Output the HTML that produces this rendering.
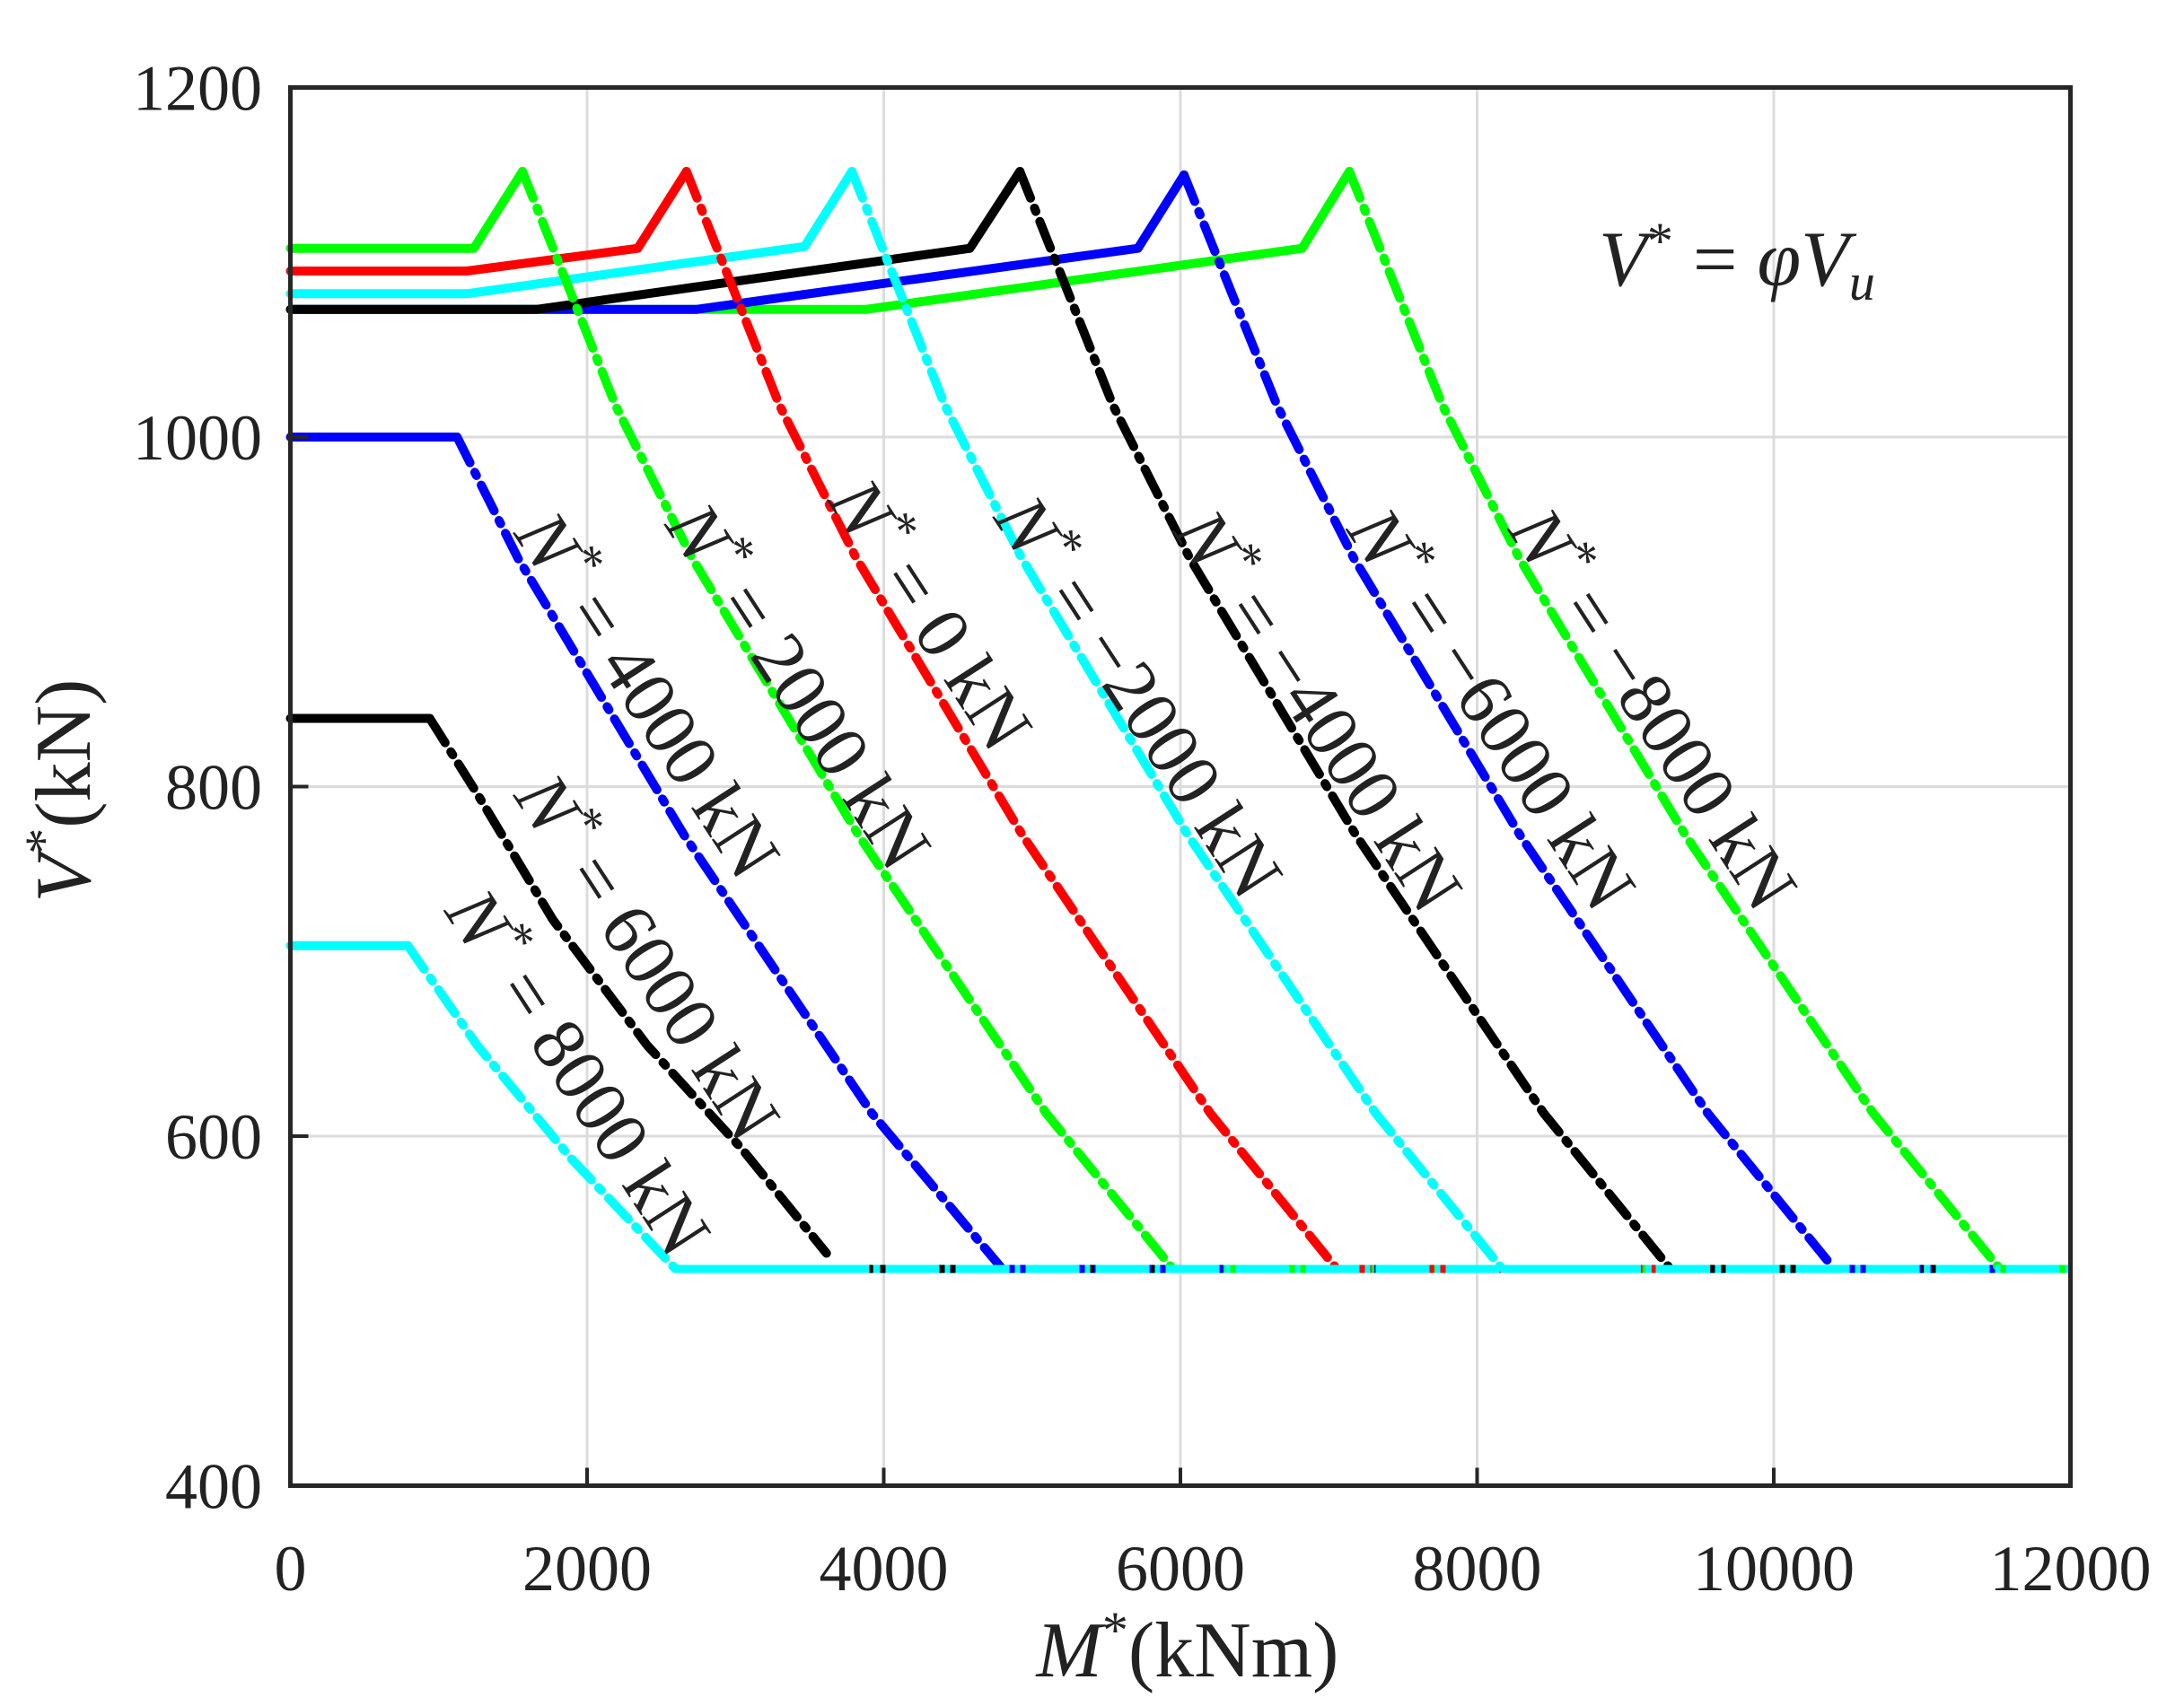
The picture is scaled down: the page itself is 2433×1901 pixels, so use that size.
<!DOCTYPE html>
<html><head><meta charset="utf-8"><style>
html,body{margin:0;padding:0;background:#fff}
svg{display:block}
text{font-family:"Liberation Serif",serif;fill:#222}
</style></head><body>
<svg id="chart" width="2433" height="1901" viewBox="0 0 2433 1901">
<g id="grid"></g>
<g id="series"></g>
<rect x="323.5" y="97.5" width="1983" height="1558" fill="none" stroke="#262626" stroke-width="5"/>
<g id="ticks"></g>
<g id="labels"></g>
<text x="1323" y="1868" font-size="88" text-anchor="middle"><tspan font-style="italic">M</tspan><tspan dy="-32" font-size="58">*</tspan><tspan dy="32">(kNm)</tspan></text>
<text transform="translate(100,881) rotate(-90)" font-size="88" text-anchor="middle"><tspan font-style="italic">V</tspan><tspan dy="-32" font-size="58">*</tspan><tspan dy="32">(kN)</tspan></text>
<text x="1935" y="318" font-size="88" text-anchor="middle"><tspan font-style="italic">V</tspan><tspan dy="-30" font-size="58">*</tspan><tspan dy="30"> = </tspan><tspan font-style="italic">φV</tspan><tspan dy="16" font-size="58" font-style="italic">u</tspan></text>
</svg>
<script>
const xTicks=[0,2000,4000,6000,8000,10000,12000];
const yTicks=[400,600,800,1000,1200];
const seriesNames=["8000","6000","4000","2000","0","-2000","-4000","-6000","-8000"];
const seriesColors=["#00ffff","#000000","#0000ff","#00ff00","#ff0000","#00ffff","#000000","#0000ff","#00ff00"];
const solidX=[[0,791],[0,940],[0,1124],[0,1237,1564],[0,1190,2342,2670],[0,1190,3466,3785],[0,1658,4581,4918],[0,2735,5714,6024],[0,3878,6820,7139]];
const solidY=[[709,709],[839,839],[1000,1000],[1108,1108,1152],[1095,1095,1108,1152],[1082,1082,1109,1152],[1073,1073,1108,1152],[1073,1073,1108,1150],[1073,1073,1108,1152]];
const dashX=[[791,1259,1895,2596],[940,1259,1768,2405,3041,3614],[1124,1532,2656,3921,4790],[1564,2192,2707,3831,5096,5939],[2670,3298,3813,4937,6202,7045],[3785,4413,4928,6052,7317,8160],[4918,5546,6061,7185,8450,9293],[6024,6652,7167,8291,9556,10399],[7139,7767,8282,9406,10671,11514]];
const dashY=[[709,652,587,524],[839,796,724,652,593,533],[1000,931,772,613,525],[1152,1018,931,772,613,525],[1152,1018,931,772,613,525],[1152,1018,931,772,613,525],[1152,1018,931,772,613,525],[1150,1018,931,772,613,525],[1152,1018,931,772,613,525]];
const floorV=524;
const labelText=["8000","6000","4000","2000","0","−2000","−4000","−6000","−8000"];
const labelM=[1895,2363,2363,3381,4272,5673,6885,8053,9142];
const labelV=[634,700,850,855,896,849,841,842,842];

const L=323.5,R=2306.5,T=97.5,B=1655.5;
const sx=v=>L+v/12000*(R-L);
const sy=v=>B-(v-400)/800*(B-T);
const NS="http://www.w3.org/2000/svg";
function mk(tag,attrs,parent){const e=document.createElementNS(NS,tag);for(const k in attrs)e.setAttribute(k,attrs[k]);parent.appendChild(e);return e;}
const grid=document.getElementById('grid'),ticks=document.getElementById('ticks'),ser=document.getElementById('series'),lab=document.getElementById('labels');
xTicks.forEach(t=>{
  const g=mk('line',{x1:sx(t),x2:sx(t),y1:T,y2:B,stroke:'#dcdcdc','stroke-width':3},grid);
  
  
  const tk=mk('line',{x1:sx(t),x2:sx(t),y1:B,y2:B-20,stroke:'#262626','stroke-width':4},ticks);
  
  
  const tx=mk('text',{x:sx(t),y:1772,'font-size':72,'text-anchor':'middle'},ticks);
  tx.textContent=t;
  
  
});
yTicks.forEach(t=>{
  const g=mk('line',{x1:L,x2:R,y1:sy(t),y2:sy(t),stroke:'#dcdcdc','stroke-width':3},grid);
  
  
  const tk=mk('line',{x1:L,x2:L+20,y1:sy(t),y2:sy(t),stroke:'#262626','stroke-width':4},ticks);
  
  
  const tx=mk('text',{x:292,y:sy(t)+25,'font-size':72,'text-anchor':'end'},ticks);
  tx.textContent=t;
  
  
});
const pts=(xs,ys)=>xs.map((x,i)=>sx(x).toFixed(1)+','+sy(ys[i]).toFixed(1)).join(' ');
seriesNames.forEach((n,i)=>{
  const xs=dashX[i];const last=xs[xs.length-1];
  const f=mk('polyline',{points:pts([last,12000],[floorV,floorV]),fill:'none',stroke:seriesColors[i],'stroke-width':9,'stroke-dasharray':'40 6 6 6'},ser);
  
  
});
for(let i=seriesNames.length-1;i>=0;i--){
  const n=seriesNames[i];
  const s=mk('polyline',{points:pts(solidX[i],solidY[i]),fill:'none',stroke:seriesColors[i],'stroke-width':10,'stroke-linejoin':'round','stroke-linecap':'round'},ser);
  
  
  const d=mk('polyline',{points:pts(dashX[i],dashY[i]),fill:'none',stroke:seriesColors[i],'stroke-width':10,'stroke-dasharray':'32 12 4 12','stroke-linecap':'round','stroke-linejoin':'round'},ser);
  
  
}
{
  const f=mk('polyline',{points:pts([dashX[0][dashX[0].length-1],12000],[floorV,floorV]),fill:'none',stroke:seriesColors[0],'stroke-width':9,'stroke-dasharray':'60 6 6 6'},ser);
  
  
}
seriesNames.forEach((n,i)=>{
  const x=sx(labelM[i]),y=sy(labelV[i]);
  const t=mk('text',{transform:`translate(${x.toFixed(1)},${y.toFixed(1)}) rotate(57)`,'font-size':84,'text-anchor':'middle','dominant-baseline':'middle'},lab);
  t.innerHTML=`<tspan font-style="italic">N</tspan><tspan dy="-28" font-size="56">*</tspan><tspan dy="28"> = ${labelText[i]} kN</tspan>`;
  
  
});
</script>
</body></html>
